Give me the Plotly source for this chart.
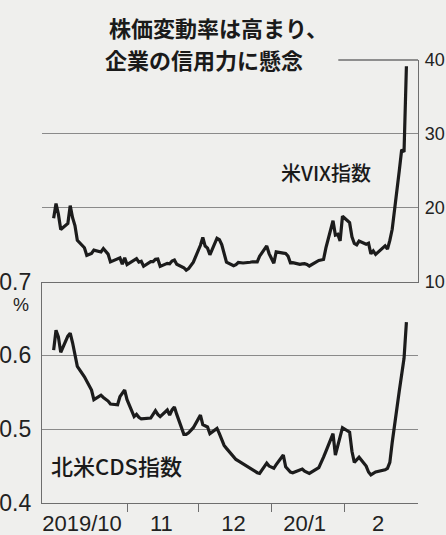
import pandas as pd
import plotly.graph_objects as go

# ---- data ----
START = "2019-10-01"
END = "2020-02-27"
HOLIDAYS = ["2019-11-28", "2019-12-25", "2020-01-01", "2020-01-20", "2020-02-17"]

vix_oct = [18.56, 20.56, 19.12, 17.04, 17.86, 20.28, 18.64, 17.57, 15.58, 14.57, 13.54, 13.68,
           13.79, 14.25, 14.00, 14.46, 14.01, 13.71, 12.65, 13.11, 13.20, 12.33, 13.22]
vix_nov = [12.30, 12.83, 13.10, 12.62, 12.73, 12.07, 12.69, 12.68, 13.00, 13.05, 12.05, 12.46,
           12.41, 12.78, 12.91, 12.34, 11.87, 11.54, 11.75, 12.62]
vix_dec = [14.91, 15.96, 14.80, 14.52, 13.62, 15.86, 15.68, 14.99, 13.94, 12.63, 12.14, 12.29,
           12.58, 12.50, 12.51, 12.61, 12.67, 12.65, 13.43, 14.82, 13.78]
vix_jan = [12.47, 14.02, 13.85, 13.79, 13.45, 12.54, 12.56, 12.32, 12.39, 12.42, 12.32, 12.10,
           12.85, 12.91, 12.98, 14.56, 18.23, 16.28, 16.39, 15.49, 18.84]
vix_feb = [17.97, 16.05, 15.15, 14.96, 15.47, 15.04, 15.18, 13.74, 14.15, 13.68, 14.83, 14.38,
           15.56, 17.08, 25.03, 27.85, 27.56, 39.16]

cds_oct = [0.607, 0.634, 0.625, 0.604, 0.626, 0.630, 0.617, 0.600, 0.585, 0.571, 0.565, 0.560,
           0.553, 0.540, 0.546, 0.543, 0.541, 0.538, 0.534, 0.533, 0.544, 0.548, 0.553]
cds_nov = [0.540, 0.517, 0.520, 0.516, 0.514, 0.514, 0.515, 0.520, 0.525, 0.520, 0.517, 0.526,
           0.519, 0.526, 0.530, 0.520, 0.493, 0.493, 0.495, 0.502]
cds_dec = [0.519, 0.506, 0.505, 0.503, 0.494, 0.501, 0.494, 0.486, 0.478, 0.474, 0.462, 0.459,
           0.457, 0.455, 0.452, 0.447, 0.444, 0.441, 0.440, 0.454, 0.450]
cds_jan = [0.447, 0.452, 0.465, 0.449, 0.445, 0.442, 0.441, 0.445, 0.446, 0.443, 0.441, 0.440,
           0.448, 0.454, 0.462, 0.470, 0.494, 0.465, 0.478, 0.488, 0.502]
cds_feb = [0.496, 0.470, 0.455, 0.459, 0.462, 0.450, 0.442, 0.438, 0.440, 0.442, 0.445, 0.447,
           0.455, 0.482, 0.552, 0.577, 0.596, 0.645]

month_starts = ["2019-11-01", "2019-12-01", "2020-01-01", "2020-02-01"]
month_label_pos = ["2019-10-13", "2019-11-15 12:00", "2019-12-16", "2020-01-15", "2020-02-15"]
month_labels = ["2019/10", "11", "12", "20/1", "2"]

vix_ticks = [10, 20, 30, 40]
cds_ticks = [0.4, 0.5, 0.6, 0.7]

title_line1 = "株価変動率は高まり、"
title_line2 = "企業の信用力に懸念"
vix_label = "米VIX指数"
cds_label = "北米CDS指数"
unit_label = "%"

# ---- build ----
dates = pd.bdate_range(START, END, freq="C", holidays=HOLIDAYS)
vix = vix_oct + vix_nov + vix_dec + vix_jan + vix_feb
cds = cds_oct + cds_nov + cds_dec + cds_jan + cds_feb
assert len(dates) == len(vix) == len(cds)

BG = "#efefed"
LINE = "#1c1c1c"
GRID = "#8a8a8a"
FRAME = "#6e6e6e"
NUM_FONT = "Liberation Sans Narrow, Arial Narrow, Liberation Sans, Arial"
JP_FONT = "Noto Sans CJK JP"

fig = go.Figure()
fig.add_trace(go.Scatter(x=dates, y=vix, xaxis="x2", yaxis="y2", mode="lines",
                         line=dict(color=LINE, width=3.2), hoverinfo="skip", showlegend=False))
fig.add_trace(go.Scatter(x=dates, y=cds, xaxis="x", yaxis="y", mode="lines",
                         line=dict(color=LINE, width=3.2), hoverinfo="skip", showlegend=False))

xrange = ["2019-09-26 02:00", "2020-03-02 21:30"]

fig.update_layout(
    width=446, height=535,
    margin=dict(l=42, r=28, t=60, b=32, autoexpand=False),
    paper_bgcolor=BG, plot_bgcolor=BG,
    showlegend=False,
    xaxis=dict(
        domain=[0, 1], anchor="y", range=xrange, type="date", automargin=False,
        showline=True, linecolor=FRAME, linewidth=1.4,
        showgrid=False, zeroline=False,
        tickmode="array", tickvals=month_label_pos, ticktext=month_labels,
        ticks="", ticklabelstandoff=0, ticklabeloverflow="allow",
        tickfont=dict(family=NUM_FONT, size=22, color="#222"),
        minor=dict(tickmode="array", tickvals=month_starts, ticks="outside",
                   ticklen=8, tickwidth=1.3, tickcolor=FRAME, showgrid=False),
    ),
    yaxis=dict(
        domain=[0, 0.5], anchor="x", range=[0.4, 0.7], automargin=False,
        showline=True, linecolor=FRAME, linewidth=1.4,
        showgrid=True, gridcolor=GRID, gridwidth=1, zeroline=False,
        tickmode="array", tickvals=cds_ticks, ticktext=[f"{v:.1f}" for v in cds_ticks],
        ticks="", ticklabelstandoff=5, ticklabeloverflow="allow",
        tickfont=dict(family=NUM_FONT, size=23, color="#222"),
    ),
    xaxis2=dict(
        domain=[0, 1], anchor="y2", range=xrange, type="date", matches="x", automargin=False,
        showline=True, linecolor=FRAME, linewidth=1.4,
        showgrid=False, zeroline=False, showticklabels=False, ticks="",
    ),
    yaxis2=dict(
        domain=[0.5, 1], anchor="x2", range=[10, 40], side="right", automargin=False,
        showline=True, linecolor=FRAME, linewidth=1.4,
        showgrid=True, gridcolor=GRID, gridwidth=1, zeroline=False,
        tickmode="array", tickvals=vix_ticks, ticktext=[str(v) for v in vix_ticks],
        ticks="", ticklabelstandoff=2, ticklabeloverflow="allow",
        tickfont=dict(family=NUM_FONT, size=18, color="#222"),
    ),
)

# partial top border of the upper panel (right of the title)
fig.add_shape(type="line", xref="paper", yref="paper", x0=0.788, x1=1.0, y0=1.0, y1=1.0,
              line=dict(color=FRAME, width=1.4))

fig.add_annotation(text=title_line1, xref="paper", yref="paper", x=0.172, y=1.0745,
                   xanchor="left", yanchor="middle", showarrow=False,
                   font=dict(family=JP_FONT, size=22, color="#1a1a1a", weight=700))
fig.add_annotation(text=title_line2, xref="paper", yref="paper", x=0.161, y=1.0023,
                   xanchor="left", yanchor="middle", showarrow=False,
                   font=dict(family=JP_FONT, size=22, color="#1a1a1a", weight=700))
fig.add_annotation(text=vix_label, xref="paper", yref="paper", x=0.754, y=0.747,
                   xanchor="center", yanchor="middle", showarrow=False,
                   font=dict(family=JP_FONT, size=20, color="#1a1a1a", weight=500))
fig.add_annotation(text=cds_label, xref="paper", yref="paper", x=0.019, y=0.086,
                   xanchor="left", yanchor="middle", showarrow=False,
                   font=dict(family=JP_FONT, size=22, color="#1a1a1a", weight=500))
fig.add_annotation(text=unit_label, xref="paper", yref="paper", x=-0.056, y=0.447,
                   xanchor="center", yanchor="middle", showarrow=False,
                   font=dict(family=NUM_FONT, size=18, color="#222"))

fig.write_html("out.html", config={"displayModeBar": False},
               post_script="document.body.style.margin='0px';")
